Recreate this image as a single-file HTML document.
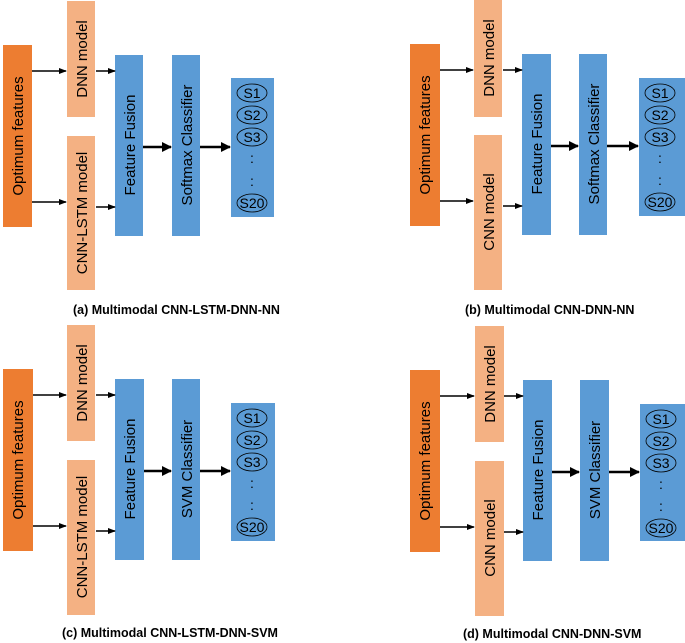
<!DOCTYPE html>
<html><head><style>
html,body{margin:0;padding:0;background:#fff;width:685px;height:643px;overflow:hidden}
svg text{font-family:"Liberation Sans",sans-serif;fill:#000}
</style></head><body>
<svg width="685" height="643" viewBox="0 0 685 643" xmlns="http://www.w3.org/2000/svg">
<defs>
<marker id="ah" markerWidth="8" markerHeight="8" refX="7" refY="4" orient="auto" markerUnits="userSpaceOnUse"><path d="M0,1 L8,4 L0,7 z" fill="#000"/></marker>
<marker id="ah2" markerWidth="10" markerHeight="10" refX="9" refY="5" orient="auto" markerUnits="userSpaceOnUse"><path d="M0,0 L10,5 L0,10 z" fill="#000"/></marker>
</defs>

<!-- Panel (a) -->
<g transform="translate(0,0)">
<rect x="3" y="45" width="29" height="182" fill="#ed7d31"/>
<text transform="translate(23,136) rotate(-90)" text-anchor="middle" font-size="15">Optimum features</text>
<rect x="67" y="1" width="28" height="116" fill="#f4b183"/>
<text transform="translate(87,59) rotate(-90)" text-anchor="middle" font-size="15">DNN model</text>
<rect x="67" y="136" width="28" height="154" fill="#f4b183"/>
<text transform="translate(87,213) rotate(-90)" text-anchor="middle" font-size="15">CNN-LSTM model</text>
<rect x="115" y="55" width="28" height="181" fill="#5b9bd5"/>
<text transform="translate(135,145) rotate(-90)" text-anchor="middle" font-size="15">Feature Fusion</text>
<rect x="172" y="55" width="28" height="181" fill="#5b9bd5"/>
<text transform="translate(192,145) rotate(-90)" text-anchor="middle" font-size="15">Softmax Classifier</text>
<rect x="231" y="78" width="43" height="139" fill="#5b9bd5"/>
<g fill="none" stroke="#000" stroke-width="0.8">
<ellipse cx="252" cy="93" rx="15" ry="9"/><ellipse cx="252" cy="115" rx="15" ry="9"/><ellipse cx="252" cy="137" rx="15" ry="9"/><ellipse cx="252" cy="203" rx="15" ry="9"/>
</g>
<g font-size="14" text-anchor="middle">
<text x="252" y="98">S1</text><text x="252" y="120">S2</text><text x="252" y="142">S3</text><text x="252" y="208">S20</text>
<text x="252" y="163">:</text><text x="252" y="186">:</text>
</g>
<g stroke="#000" stroke-width="1.6">
<line x1="32" y1="71" x2="66" y2="71" marker-end="url(#ah)"/>
<line x1="96" y1="71" x2="115" y2="71" marker-end="url(#ah)"/>
<line x1="32" y1="202" x2="66" y2="202" marker-end="url(#ah)"/>
<line x1="96" y1="207" x2="115" y2="207" marker-end="url(#ah)"/>
<line x1="143" y1="147" x2="171" y2="147" stroke-width="2.4" marker-end="url(#ah2)"/>
<line x1="200" y1="147" x2="230" y2="147" stroke-width="2.4" marker-end="url(#ah2)"/>
</g>
<text x="73" y="314" font-size="12.5" font-weight="bold">(a) Multimodal CNN-LSTM-DNN-NN</text>
</g>

<!-- Panel (b) -->
<g transform="translate(407,-1)">
<rect x="3" y="45" width="30" height="182" fill="#ed7d31"/>
<text transform="translate(23,136) rotate(-90)" text-anchor="middle" font-size="15">Optimum features</text>
<rect x="67" y="1" width="28" height="117" fill="#f4b183"/>
<text transform="translate(87,59) rotate(-90)" text-anchor="middle" font-size="15">DNN model</text>
<rect x="67" y="136" width="28" height="155" fill="#f4b183"/>
<text transform="translate(87,213) rotate(-90)" text-anchor="middle" font-size="15">CNN model</text>
<rect x="115" y="55" width="29" height="181" fill="#5b9bd5"/>
<text transform="translate(135,145) rotate(-90)" text-anchor="middle" font-size="15">Feature Fusion</text>
<rect x="172" y="55" width="28" height="181" fill="#5b9bd5"/>
<text transform="translate(192,145) rotate(-90)" text-anchor="middle" font-size="15">Softmax Classifier</text>
<rect x="232" y="79" width="50" height="138" fill="#5b9bd5"/>
<g fill="none" stroke="#000" stroke-width="0.8">
<ellipse cx="253" cy="94" rx="15" ry="9"/><ellipse cx="253" cy="116" rx="15" ry="9"/><ellipse cx="253" cy="138" rx="15" ry="9"/><ellipse cx="253" cy="203" rx="15" ry="9"/>
</g>
<g font-size="14" text-anchor="middle">
<text x="253" y="99">S1</text><text x="253" y="121">S2</text><text x="253" y="143">S3</text><text x="253" y="208">S20</text>
<text x="253" y="164">:</text><text x="253" y="186">:</text>
</g>
<g stroke="#000" stroke-width="1.6">
<line x1="33" y1="71" x2="66" y2="71" marker-end="url(#ah)"/>
<line x1="96" y1="71" x2="115" y2="71" marker-end="url(#ah)"/>
<line x1="33" y1="202" x2="66" y2="202" marker-end="url(#ah)"/>
<line x1="96" y1="207" x2="115" y2="207" marker-end="url(#ah)"/>
<line x1="144" y1="147" x2="171" y2="147" stroke-width="2.4" marker-end="url(#ah2)"/>
<line x1="200" y1="147" x2="231" y2="147" stroke-width="2.4" marker-end="url(#ah2)"/>
</g>
<text x="58" y="315" font-size="12.5" font-weight="bold">(b) Multimodal CNN-DNN-NN</text>
</g>

<!-- Panel (c) -->
<g transform="translate(0,324)">
<rect x="3" y="45" width="30" height="182" fill="#ed7d31"/>
<text transform="translate(23,136) rotate(-90)" text-anchor="middle" font-size="15">Optimum features</text>
<rect x="67" y="1" width="28" height="116" fill="#f4b183"/>
<text transform="translate(87,59) rotate(-90)" text-anchor="middle" font-size="15">DNN model</text>
<rect x="67" y="136" width="28" height="155" fill="#f4b183"/>
<text transform="translate(87,213) rotate(-90)" text-anchor="middle" font-size="15">CNN-LSTM model</text>
<rect x="115" y="55" width="29" height="181" fill="#5b9bd5"/>
<text transform="translate(135,145) rotate(-90)" text-anchor="middle" font-size="15">Feature Fusion</text>
<rect x="172" y="55" width="28" height="181" fill="#5b9bd5"/>
<text transform="translate(192,145) rotate(-90)" text-anchor="middle" font-size="15">SVM Classifier</text>
<rect x="231" y="79" width="44" height="138" fill="#5b9bd5"/>
<g fill="none" stroke="#000" stroke-width="0.8">
<ellipse cx="252" cy="94" rx="15" ry="9"/><ellipse cx="252" cy="116" rx="15" ry="9"/><ellipse cx="252" cy="138" rx="15" ry="9"/><ellipse cx="252" cy="203" rx="15" ry="9"/>
</g>
<g font-size="14" text-anchor="middle">
<text x="252" y="99">S1</text><text x="252" y="121">S2</text><text x="252" y="143">S3</text><text x="252" y="208">S20</text>
<text x="252" y="164">:</text><text x="252" y="186">:</text>
</g>
<g stroke="#000" stroke-width="1.6">
<line x1="33" y1="71" x2="66" y2="71" marker-end="url(#ah)"/>
<line x1="96" y1="71" x2="115" y2="71" marker-end="url(#ah)"/>
<line x1="33" y1="202" x2="66" y2="202" marker-end="url(#ah)"/>
<line x1="96" y1="207" x2="115" y2="207" marker-end="url(#ah)"/>
<line x1="144" y1="147" x2="171" y2="147" stroke-width="2.4" marker-end="url(#ah2)"/>
<line x1="200" y1="147" x2="230" y2="147" stroke-width="2.4" marker-end="url(#ah2)"/>
</g>
<text x="62" y="313" font-size="12.5" font-weight="bold">(c) Multimodal CNN-LSTM-DNN-SVM</text>
</g>

<!-- Panel (d) -->
<g transform="translate(407,325)">
<rect x="3" y="45" width="30" height="182" fill="#ed7d31"/>
<text transform="translate(23,136) rotate(-90)" text-anchor="middle" font-size="15">Optimum features</text>
<rect x="68" y="1" width="29" height="116" fill="#f4b183"/>
<text transform="translate(88,59) rotate(-90)" text-anchor="middle" font-size="15">DNN model</text>
<rect x="68" y="136" width="29" height="155" fill="#f4b183"/>
<text transform="translate(88,213) rotate(-90)" text-anchor="middle" font-size="15">CNN model</text>
<rect x="116" y="55" width="29" height="181" fill="#5b9bd5"/>
<text transform="translate(136,145) rotate(-90)" text-anchor="middle" font-size="15">Feature Fusion</text>
<rect x="173" y="55" width="29" height="181" fill="#5b9bd5"/>
<text transform="translate(193,145) rotate(-90)" text-anchor="middle" font-size="15">SVM Classifier</text>
<rect x="233" y="79" width="50" height="137" fill="#5b9bd5"/>
<g fill="none" stroke="#000" stroke-width="0.8">
<ellipse cx="254" cy="94" rx="15" ry="9"/><ellipse cx="254" cy="116" rx="15" ry="9"/><ellipse cx="254" cy="138" rx="15" ry="9"/><ellipse cx="254" cy="203" rx="15" ry="9"/>
</g>
<g font-size="14" text-anchor="middle">
<text x="254" y="99">S1</text><text x="254" y="121">S2</text><text x="254" y="143">S3</text><text x="254" y="208">S20</text>
<text x="254" y="164">:</text><text x="254" y="186">:</text>
</g>
<g stroke="#000" stroke-width="1.6">
<line x1="33" y1="71" x2="67" y2="71" marker-end="url(#ah)"/>
<line x1="97" y1="71" x2="116" y2="71" marker-end="url(#ah)"/>
<line x1="33" y1="202" x2="67" y2="202" marker-end="url(#ah)"/>
<line x1="97" y1="207" x2="116" y2="207" marker-end="url(#ah)"/>
<line x1="145" y1="147" x2="172" y2="147" stroke-width="2.4" marker-end="url(#ah2)"/>
<line x1="202" y1="147" x2="232" y2="147" stroke-width="2.4" marker-end="url(#ah2)"/>
</g>
<text x="56" y="313" font-size="12.5" font-weight="bold">(d) Multimodal CNN-DNN-SVM</text>
</g>
</svg>
</body></html>
